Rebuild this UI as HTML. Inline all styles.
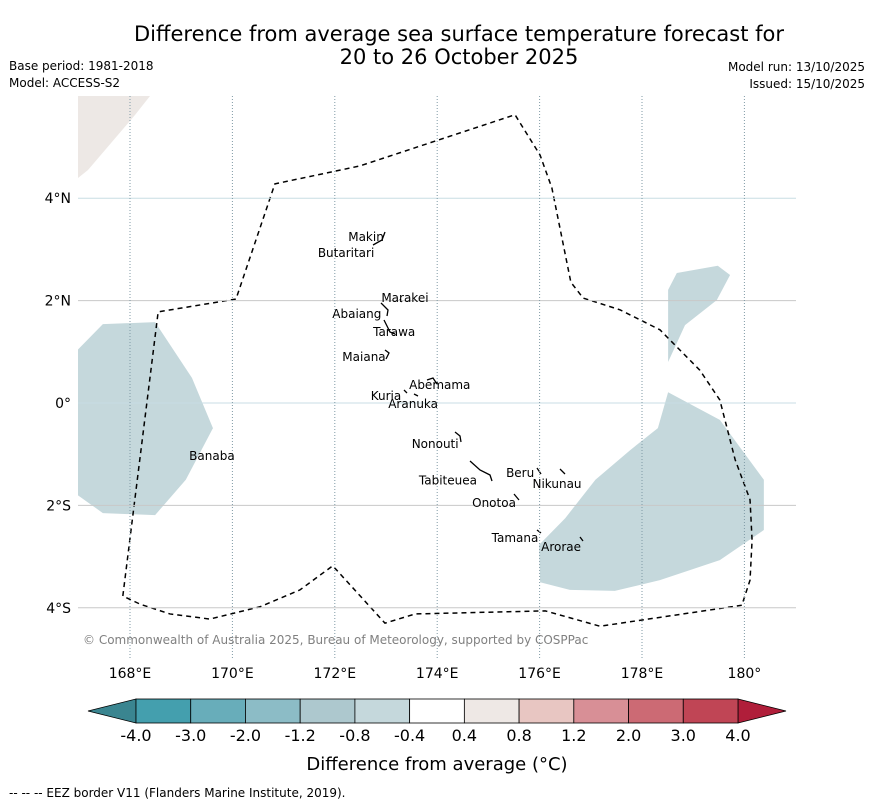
<!DOCTYPE html>
<html><head><meta charset="utf-8"><style>
body{margin:0;background:#fff;font-family:"DejaVu Sans","Liberation Sans",sans-serif}
svg text{font-family:"DejaVu Sans","Liberation Sans",sans-serif}
</style></head><body>
<svg id="s" width="873" height="804" xmlns="http://www.w3.org/2000/svg">
<text x="459" y="41" font-size="21" text-anchor="middle">Difference from average sea surface temperature forecast for</text>
<text x="459" y="64" font-size="21" text-anchor="middle">20 to 26 October 2025</text>
<text x="9" y="70" font-size="12">Base period: 1981-2018</text>
<text x="9" y="87" font-size="12">Model: ACCESS-S2</text>
<text x="865" y="71" font-size="12" text-anchor="end">Model run: 13/10/2025</text>
<text x="865" y="88" font-size="12" text-anchor="end">Issued: 15/10/2025</text>
<g id="map"></g>
<g id="cb"></g>
<text x="437" y="770" font-size="18" text-anchor="middle">Difference from average (°C)</text>
<text x="9" y="797" font-size="12">--  --  -- EEZ border V11 (Flanders Marine Institute, 2019).</text>
</svg>
<script>
const lonTicks=[168,170,172,174,176,178,180];
const lonLabels=["168°E","170°E","172°E","174°E","176°E","178°E","180°"];
const latTicks=[4,2,0,-2,-4];
const latLabels=["4°N","2°N","0°","2°S","4°S"];
const eezLon=[167.86,168.55,170.07,170.83,172.49,175.52,176.01,176.24,176.61,176.85,177.57,178.35,179.13,179.52,179.82,180.11,180.15,180.11,179.95,177.18,176.11,173.57,172.98,171.96,171.32,170.54,169.56,168.78,168.20,167.86];
const eezLat=[-3.77,1.78,2.03,4.28,4.63,5.63,4.84,4.20,2.36,2.05,1.82,1.43,0.64,0.06,-1.11,-1.89,-2.68,-3.46,-3.95,-4.36,-4.06,-4.12,-4.30,-3.18,-3.65,-3.98,-4.22,-4.12,-3.93,-3.77];
const westLon=[166.98,167.47,168.49,169.21,169.62,169.09,168.49,167.47,166.98];
const westLat=[1.04,1.54,1.58,0.49,-0.49,-1.50,-2.19,-2.15,-1.80];
const neLon=[178.51,178.68,179.48,179.72,179.46,178.84,178.51];
const neLat=[2.21,2.54,2.68,2.50,2.01,1.52,0.80];
const seLon=[178.51,179.52,180.38,180.38,179.52,178.35,177.47,176.59,176.01,175.99,176.50,177.09,177.77,178.31];
const seLat=[0.21,-0.33,-1.50,-2.48,-3.07,-3.46,-3.67,-3.65,-3.50,-2.77,-2.25,-1.50,-0.92,-0.49];
const islandNames=["Makin","Butaritari","Marakei","Abaiang","Tarawa","Maiana","Abemama","Kuria","Aranuka","Banaba","Nonouti","Tabiteuea","Beru","Nikunau","Onotoa","Tamana","Arorae"];
const islandLon=[172.61,172.22,173.37,172.43,173.16,172.57,174.05,173.0,173.53,169.6,173.96,174.21,175.62,176.34,175.11,175.52,176.42];
const islandLat=[3.16,2.85,1.97,1.66,1.31,0.82,0.27,0.06,-0.10,-1.11,-0.88,-1.59,-1.45,-1.66,-2.03,-2.71,-2.89];
const cbEdges=["-4.0","-3.0","-2.0","-1.2","-0.8","-0.4","0.4","0.8","1.2","2.0","3.0","4.0"];
const cbColors=["#449fae","#68adba","#8cbcc6","#adc8ce","#c5d8dc","#ffffff","#eee8e5","#e8c6c2","#d88f96","#cc6a74","#c04555"];
const NS="http://www.w3.org/2000/svg";
const X=l=>130+(l-168)*51.2, Y=l=>403-l*51.2;
function mk(t,a,p){const e=document.createElementNS(NS,t);for(const k in a)e.setAttribute(k,a[k]);p.appendChild(e);return e;}
const map=document.getElementById('map');
mk('defs',{},map).innerHTML='<clipPath id="cp"><rect x="78" y="96" width="718" height="563"/></clipPath>';
const g=mk('g',{'clip-path':'url(#cp)'},map);
function poly(lo,la,fill,name){const p=mk('polygon',{points:lo.map((v,i)=>X(v)+','+Y(la[i])).join(' '),fill:fill},g);

}
poly(westLon,westLat,'#c5d8dc','anomaly-west');
poly(neLon,neLat,'#c5d8dc','anomaly-northeast');
poly(seLon,seLat,'#c5d8dc','anomaly-southeast');
const land=mk('polygon',{points:'78,96 150,96 135,115 88,170 78,178',fill:'#ede8e5'},g);


latTicks.forEach((v,i)=>{const c=(v===0||v===4)?'#c8dde4':'#c8c8c8';
const l=mk('line',{x1:78,x2:796,y1:Y(v),y2:Y(v),stroke:c,'stroke-width':1},map);


const t=mk('text',{x:71,y:Y(v)+5,'font-size':14,'text-anchor':'end'},map);t.textContent=latLabels[i];

});
lonTicks.forEach((v,i)=>{const l=mk('line',{x1:X(v),x2:X(v),y1:96,y2:659,stroke:'#7f9aa6','stroke-width':1,'stroke-dasharray':'1,2'},map);


const t=mk('text',{x:X(v),y:678,'font-size':14,'text-anchor':'middle'},map);t.textContent=lonLabels[i];

});
const eez=mk('polyline',{points:eezLon.map((v,i)=>X(v)+','+Y(eezLat[i])).join(' '),fill:'none',stroke:'#000','stroke-width':1.5,'stroke-dasharray':'5,4'},g);


const isl=mk('path',{d:'M373,245 L382,240 L385,232 M381,303 L388,310 L387,316 M384,320 L390,332 L395,334 M385,350 L389,353 L386,359 M427,380 L433,378 L437,384 M404,390 L407,393 M414,394 L418,396 M455,432 L460,436 L461,442 M470,461 L480,470 L490,475 L492,481 M537,468 L541,474 M560,469 L565,474 M514,494 L519,500 M537,530 L541,533 M580,537 L583,541 M400,299 L402,302',fill:'none',stroke:'#000','stroke-width':1.3},g);


islandNames.forEach((n,i)=>{const t=mk('text',{x:X(islandLon[i]),y:Y(islandLat[i]),'font-size':12,'text-anchor':'middle'},map);t.textContent=n;

});
const cr=mk('text',{x:83,y:644,'font-size':12,fill:'#808080'},map);cr.textContent='© Commonwealth of Australia 2025, Bureau of Meteorology, supported by COSPPac';


const cb=document.getElementById('cb');const x0=136,w=(738-136)/cbColors.length,y0=699,h=24;
const lt=mk('polygon',{points:`${x0},${y0} 88,${y0+h/2} ${x0},${y0+h}`,fill:'#3a8590',stroke:'#000','stroke-width':0.8},cb);


const rt=mk('polygon',{points:`738,${y0} 786,${y0+h/2} 738,${y0+h}`,fill:'#b01e3a',stroke:'#000','stroke-width':0.8},cb);


cbColors.forEach((c,i)=>{const r=mk('rect',{x:x0+i*w,y:y0,width:w,height:h,fill:c,stroke:'#000','stroke-width':0.8},cb);

});
cbEdges.forEach((s,i)=>{const t=mk('text',{x:x0+i*w,y:741,'font-size':16,'text-anchor':'middle'},cb);t.textContent=s;

});
</script>
</body></html>
